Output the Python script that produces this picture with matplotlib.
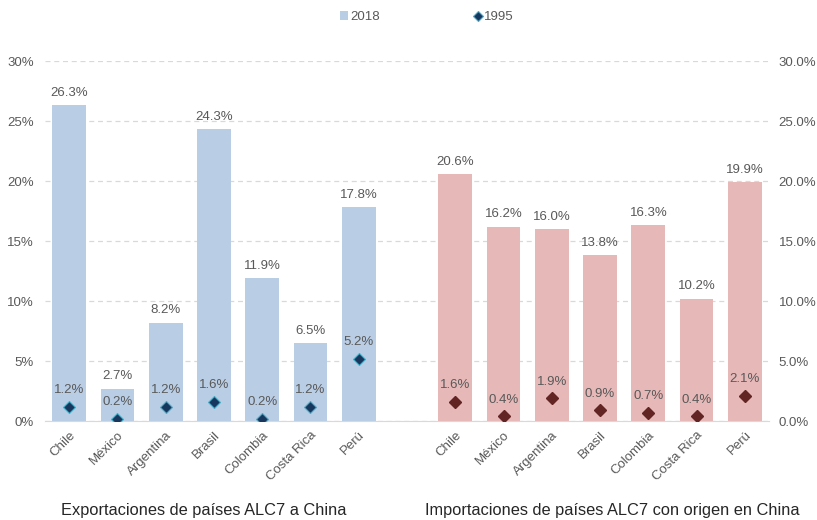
import matplotlib
matplotlib.use("Agg")
import matplotlib.pyplot as plt
from matplotlib.lines import Line2D
from matplotlib.patches import Patch
from matplotlib.ticker import FuncFormatter

plt.rcParams['font.family'] = ['Liberation Sans', 'DejaVu Sans']

countries = ["Chile", "México", "Argentina", "Brasil", "Colombia", "Costa Rica", "Perú"]
exp_2018 = [26.3, 2.7, 8.2, 24.3, 11.9, 6.5, 17.8]
exp_1995 = [1.2, 0.2, 1.2, 1.6, 0.2, 1.2, 5.2]
imp_2018 = [20.6, 16.2, 16.0, 13.8, 16.3, 10.2, 19.9]
imp_1995 = [1.6, 0.4, 1.9, 0.9, 0.7, 0.4, 2.1]
left_title = "Exportaciones de países ALC7 a China"
right_title = "Importaciones de países ALC7 con origen en China"

blue_bar = "#B9CDE5"
pink_bar = "#E6B9B8"
navy = "#17375E"
darkred = "#632523"
txt = "#595959"
fs = 9.5

fig = plt.figure(figsize=(8.17, 5.2), dpi=100)
ax = fig.add_axes([45/817, 1-421/520, 724/817, 360/520])

n = len(countries)
xl = list(range(n))
xr = [i + n + 1 for i in range(n)]
w = 0.7

ax.bar(xl, exp_2018, width=w, color=blue_bar, zorder=2)
ax.bar(xr, imp_2018, width=w, color=pink_bar, zorder=2)
ax.plot(xl, exp_1995, linestyle='none', marker='D', markersize=6.5,
        markerfacecolor=navy, markeredgecolor="#4BACC6", markeredgewidth=0.8, zorder=3)
ax.plot(xr, imp_1995, linestyle='none', marker='D', markersize=6.5,
        markerfacecolor=darkred, markeredgecolor=darkred, zorder=3)

for x, v in zip(xl + xr, exp_2018 + imp_2018):
    ax.annotate(f"{v:.1f}%", (x, v), xytext=(0, 4.5), textcoords='offset points',
                ha='center', va='bottom', fontsize=fs, color=txt, zorder=4)
for x, v in zip(xl + xr, exp_1995 + imp_1995):
    ax.annotate(f"{v:.1f}%", (x, v), xytext=(0, 7.5), textcoords='offset points',
                ha='center', va='bottom', fontsize=fs, color=txt, zorder=4)

ax.set_xlim(-0.5, 2*n + 0.5)
ax.set_ylim(0, 30)
ax.set_yticks(range(0, 31, 5))
ax.yaxis.set_major_formatter(FuncFormatter(lambda v, p: f"{v:.0f}%"))
ax.grid(axis='y', color='#D9D9D9', linestyle=(0, (4, 3)), linewidth=0.9, zorder=0)
ax.set_xticks(xl + xr)
ax.set_xticklabels(countries + countries, rotation=45, ha='right', rotation_mode='anchor',
                   fontsize=fs, color=txt)
ax.tick_params(axis='both', length=0, colors=txt, labelsize=fs)
ax.tick_params(axis='x', pad=6)
ax.tick_params(axis='y', pad=8)
for s in ['top', 'right', 'left']:
    ax.spines[s].set_visible(False)
ax.spines['bottom'].set_color('#D9D9D9')
ax.spines['bottom'].set_zorder(1)

ax2 = ax.twinx()
ax2.set_ylim(0, 30)
ax2.set_yticks(range(0, 31, 5))
ax2.yaxis.set_major_formatter(FuncFormatter(lambda v, p: f"{v:.1f}%"))
ax2.tick_params(axis='y', length=0, colors=txt, labelsize=fs, pad=7)
for s in ax2.spines.values():
    s.set_visible(False)

fig.text(204/817, 1-511/520, left_title, ha='center', va='center', fontsize=11.8, color='#262626')
fig.text(612/817, 1-511/520, right_title, ha='center', va='center', fontsize=11.8, color='#262626')

handles = [Patch(facecolor=blue_bar, edgecolor='none'),
           Line2D([], [], linestyle='none', marker='D', markersize=5,
                  markerfacecolor=navy, markeredgecolor="#4BACC6", markeredgewidth=0.8)]
fig.legend(handles, ["2018", "1995"], loc='center', bbox_to_anchor=(427/817, 1-17/520),
           ncol=2, frameon=False, fontsize=fs, labelcolor=txt, columnspacing=7.2,
           handlelength=0.6, handleheight=0.6, handletextpad=0.15)

fig.savefig("out.png", dpi=100)
